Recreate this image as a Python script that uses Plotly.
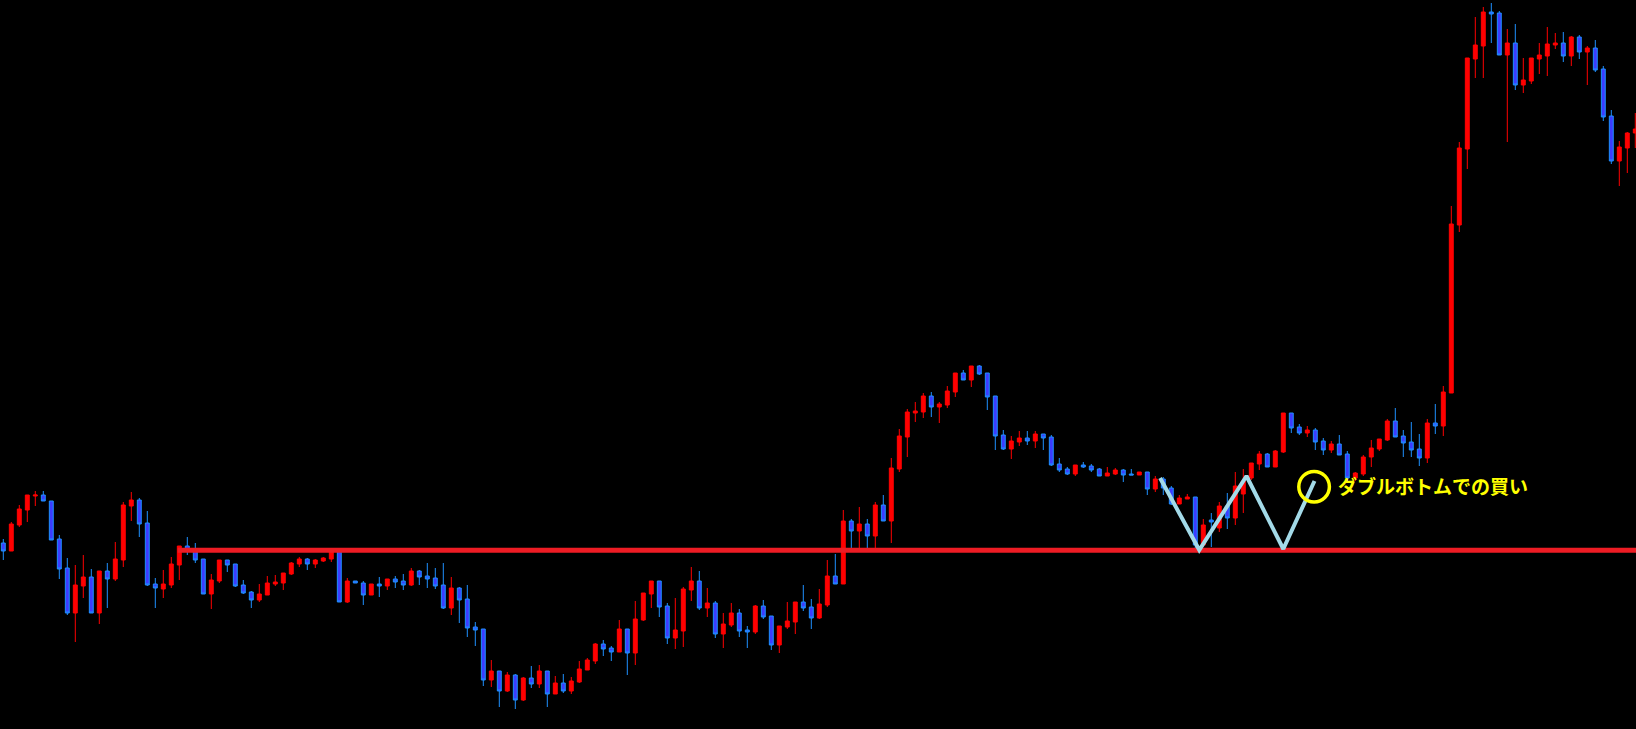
import plotly.graph_objects as go

# Candle data (price units), one value per bar
open_ = [186,178,204,219,233,234,228,190,161,116,143,152,116,158,150,169,223,229,206,145,
         140,144,164,183,179,170,135,148,169,165,144,137,129,134,145,146,155,165,170,165,
         168,170,178,127,148,146,134,145,143,150,148,144,158,153,151,144,121,141,130,102,
         100,49,58,38,54,29,51,45,58,35,46,38,47,59,68,85,81,77,100,76,
         109,135,148,123,91,98,139,148,121,126,95,104,116,99,97,123,113,84,102,107,
         127,122,111,124,153,145,208,198,205,193,224,208,260,292,316,317,333,322,324,337,
         356,349,363,356,333,294,280,287,291,288,295,292,265,260,255,264,263,260,253,255,
         259,255,254,257,240,250,241,225,230,232,184,209,201,223,211,235,251,265,275,262,
         277,316,302,296,299,288,279,285,275,251,255,272,280,289,308,293,287,280,271,306,
         303,336,504,580,670,683,717,716,674,686,644,648,670,673,684,686,673,692,677,681,
         660,613,568,581,596]
high = [190,207,224,234,238,238,228,194,171,164,174,160,158,166,187,227,237,231,218,151,
        159,172,183,192,186,170,155,169,169,165,149,138,145,153,154,156,167,172,171,170,
        172,180,180,151,148,148,145,152,150,153,155,161,159,166,161,166,152,142,144,107,
        100,69,58,57,55,52,63,64,58,53,55,52,68,71,86,89,83,109,100,128,
        136,148,148,126,131,142,162,158,141,128,116,126,120,103,124,129,113,103,127,127,
        144,130,140,169,175,219,210,222,210,227,234,271,300,320,327,336,337,327,343,356,
        359,363,364,356,333,299,293,298,298,298,295,294,271,262,264,267,265,261,262,261,
        260,260,257,257,253,252,243,234,235,232,210,216,227,236,257,260,266,278,276,279,
        316,316,305,303,301,291,288,294,278,257,274,289,290,310,321,299,307,295,310,325,
        343,523,587,671,712,722,726,718,700,705,671,671,686,702,696,697,693,694,683,689,
        663,619,588,597,616]
low = [169,178,202,207,223,228,189,150,114,87,131,116,105,121,148,162,208,192,143,121,
       131,141,149,174,166,135,120,146,157,142,135,121,127,134,143,139,154,162,159,161,
       167,167,127,126,146,124,134,132,139,141,139,143,144,141,140,120,114,106,92,83,
       43,42,22,37,20,28,41,41,22,35,36,35,46,59,65,73,68,77,54,64,
       108,121,112,85,80,82,128,119,112,91,81,102,92,81,95,110,79,76,100,95,
       118,100,110,122,145,145,179,179,179,179,208,186,257,272,307,311,312,306,321,332,
       349,342,354,319,279,279,270,283,284,281,279,263,257,254,253,261,257,253,253,254,
       247,254,254,234,237,234,224,225,230,181,182,182,197,200,204,216,249,259,262,262,
       276,296,294,292,279,274,276,274,246,248,253,262,278,288,292,272,272,263,266,295,
       293,336,497,560,651,651,686,674,587,639,636,645,655,653,680,667,663,670,644,657,
       608,565,543,556,581]
close = [178,205,220,234,234,228,189,160,116,144,152,116,158,150,170,224,229,205,144,141,
         145,165,183,179,169,135,149,169,164,143,136,129,135,146,147,156,166,170,165,169,
         171,178,127,148,146,134,145,143,150,147,144,158,152,150,143,121,141,129,101,99,
         49,58,38,54,29,51,45,58,35,46,38,48,60,69,85,80,77,100,76,110,
         136,148,122,91,99,140,148,121,126,95,105,116,98,97,123,112,84,103,108,127,
         121,111,125,153,145,208,198,205,193,224,208,261,293,317,318,333,322,325,338,356,
         349,363,355,332,293,280,288,291,288,295,291,264,259,255,264,262,259,253,256,259,
         254,254,257,240,250,241,225,231,232,184,204,207,223,211,243,248,266,275,262,278,
         316,301,296,299,287,279,285,274,251,256,272,281,290,308,292,286,279,271,306,303,
         337,505,581,671,684,717,715,674,686,644,649,671,674,685,686,673,692,677,681,659,
         612,568,582,596,600]
bars = list(range(len(close)))

# Support line level and its starting bar
support_level = 178.7
support_start = 21.8

# Double-bottom "W" drawing (bar position, price)
w_bars = [144.6, 149.5, 155.4, 160.0, 163.9]
w_prices = [251, 179, 253, 180, 248]

# Buy point marker
buy_bar = 163.85
buy_price = 242.3
label_text = "ダブルボトムでの買い"

fig = go.Figure()

fig.add_trace(go.Candlestick(
    x=bars, open=open_, high=high, low=low, close=close,
    increasing=dict(line=dict(color="#FF0000", width=1), fillcolor="#FF0000"),
    decreasing=dict(line=dict(color="#1E90FF", width=1), fillcolor="#3C3CFF"),
    whiskerwidth=0,
    showlegend=False,
    hoverinfo="skip",
))

fig.add_trace(go.Scatter(
    x=[support_start, 205], y=[support_level, support_level],
    mode="lines", line=dict(color="#ED1C24", width=5),
    showlegend=False, hoverinfo="skip",
))

fig.add_trace(go.Scatter(
    x=w_bars, y=w_prices, mode="lines",
    line=dict(color="#A3DAE8", width=4),
    showlegend=False, hoverinfo="skip",
))

rx = 15.3 / 8.0
ry = 15.3
fig.add_shape(type="circle", xref="x", yref="y",
              x0=buy_bar - rx, x1=buy_bar + rx,
              y0=buy_price - ry, y1=buy_price + ry,
              line=dict(color="#FFFF00", width=3.5))

fig.add_annotation(x=166.6, y=244, xref="x", yref="y", text="<b>" + label_text + "</b>",
                   showarrow=False, xanchor="left", yanchor="middle",
                   font=dict(family="Noto Sans CJK JP", size=19, color="#FFFF00"))

fig.update_layout(
    width=1636, height=729,
    margin=dict(l=0, r=0, t=0, b=0),
    paper_bgcolor="#000000", plot_bgcolor="#000000",
    boxgap=0.3, boxgroupgap=0.3,
    xaxis=dict(range=[-0.4125, 204.0875], visible=False, rangeslider=dict(visible=False),
               fixedrange=True),
    yaxis=dict(range=[0, 729], visible=False, fixedrange=True),
    showlegend=False,
)

fig.write_html("out.html", config={"displayModeBar": False})

# remove the default page margin so the chart fills the window
with open("out.html", "r", encoding="utf-8") as f:
    html = f.read()
html = html.replace("<head>", "<head><style>html,body{margin:0;padding:0;background:#000;overflow:hidden;}</style>", 1)
with open("out.html", "w", encoding="utf-8") as f:
    f.write(html)
